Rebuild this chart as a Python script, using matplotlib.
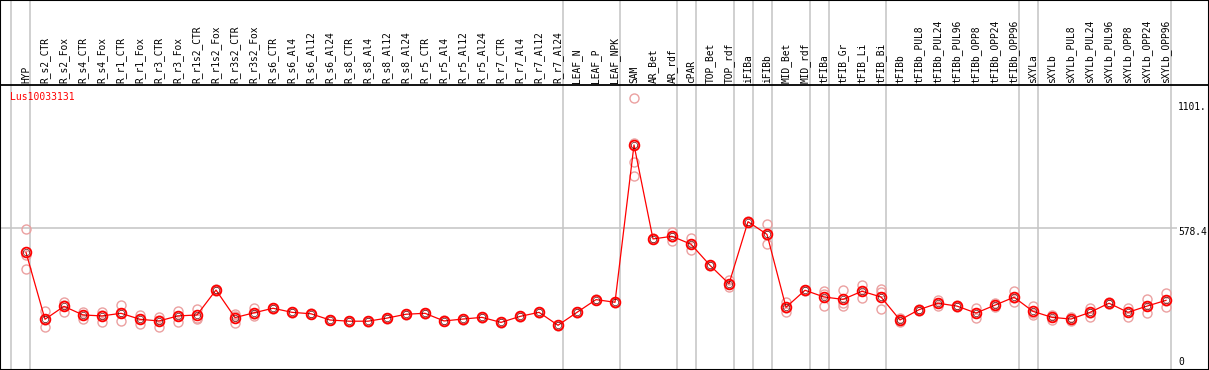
import numpy as np
from matplotlib import pyplot as plt

# Proben (Spaltenkoepfe)
samples = ["HYP", "R_s2_CTR", "R_s2_Fox", "R_s4_CTR", "R_s4_Fox", "R_r1_CTR", "R_r1_Fox",
           "R_r3_CTR", "R_r3_Fox", "R_r1s2_CTR", "R_r1s2_Fox", "R_r3s2_CTR", "R_r3s2_Fox",
           "R_s6_CTR", "R_s6_Al4", "R_s6_Al12", "R_s6_Al24", "R_s8_CTR", "R_s8_Al4", "R_s8_Al12",
           "R_s8_Al24", "R_r5_CTR", "R_r5_Al4", "R_r5_Al12", "R_r5_Al24", "R_r7_CTR", "R_r7_Al4",
           "R_r7_Al12", "R_r7_Al24", "LEAF_N", "LEAF_P", "LEAF_NPK", "SAM", "AR_Bet", "AR_rdf",
           "cPAR", "TOP_Bet", "TOP_rdf", "iFIBa", "iFIBb", "MID_Bet", "MID_rdf", "tFIBa",
           "tFIB_Gr", "tFIB_Li", "tFIB_Bi", "tFIBb", "tFIBb_PUL8", "tFIBb_PUL24", "tFIBb_PUL96",
           "tFIBb_OPP8", "tFIBb_OPP24", "tFIBb_OPP96", "sXYLa", "sXYLb", "sXYLb_PUL8",
           "sXYLb_PUL24", "sXYLb_PUL96", "sXYLb_OPP8", "sXYLb_OPP24", "sXYLb_OPP96"]

# Mittelwerte
means = [478, 199, 253, 217, 213, 224, 199, 192, 213, 217, 321, 206, 226,
         245, 228, 222, 196, 191, 191, 204, 220, 224, 192, 200, 207, 186, 211,
         228, 174, 228, 281, 270, 926, 534, 545, 512, 424, 347, 606, 553, 249,
         320, 292, 282, 316, 292, 196, 239, 266, 254, 225, 258, 291, 232, 207,
         200, 228, 266, 228, 254, 278]

# Einzelwerte (Replikate)
replicates = [
    [574, 467, 407], [233, 198, 166], [271, 257, 231], [231, 218, 201], [231, 218, 189],
    [257, 224, 191], [218, 199, 179], [210, 197, 168], [235, 214, 189], [243, 206, 201],
    [325, 321, 318], [221, 211, 185], [246, 221, 213],
    [248, 245, 242], [230, 228, 226], [224, 222, 220], [198, 196, 194], [193, 191, 189],
    [193, 191, 189], [206, 204, 202], [222, 220, 218], [226, 224, 222], [194, 192, 190],
    [202, 200, 198], [209, 207, 205], [188, 186, 184], [213, 211, 209], [230, 228, 226],
    [176, 174, 172], [230, 228, 226], [283, 281, 279], [272, 270, 268],
    [1120, 935, 854, 798], [536, 534, 532], [564, 544, 527], [537, 512, 487],
    [426, 424, 423], [363, 347, 332], [607, 606, 605], [595, 552, 513], [272, 244, 231],
    [321, 320, 319], [318, 304, 253], [321, 266, 254], [343, 315, 289], [324, 312, 242],
    [204, 196, 188], [243, 239, 235], [278, 265, 254], [259, 255, 249], [245, 226, 204],
    [268, 258, 249], [317, 286, 270], [256, 226, 216], [217, 209, 196], [210, 199, 192],
    [247, 227, 210], [272, 263, 262], [245, 230, 210], [284, 256, 224], [309, 274, 252]]

# Gruppengrenzen (nach diesem Index)
group_ends = [-1, 0, 28, 31, 34, 35, 37, 38, 39, 41, 42, 45, 52, 53, 60]

axis_labels = ["1101.", "578.4", "0"]
axis_values = [1101, 578.4, 0]
gene = "Lus10033131"

fig = plt.figure(figsize=(12.09, 3.70), dpi=100)
ax = fig.add_axes([0, 0, 1, 1])
ax.set_xlim(-26 / 19, (1209 - 26) / 19)
ax.set_ylim(-12.5, 1530.4)
ax.set_xticks([])
ax.set_yticks([])
for s in ax.spines.values():
    s.set_color("black")
    s.set_linewidth(1.5)

x = np.arange(len(samples))
header_y = 1176
grey = "#c4c4c4"

for g in group_ends:
    ax.axvline(g + 4.5 / 19, color=grey, lw=1.1, zorder=1)
ax.hlines(578.4, -26 / 19, (1177 - 26) / 19, color=grey, lw=1.1, zorder=1)
ax.axhline(header_y, color="black", lw=1.3, zorder=2)

for i, name in enumerate(samples):
    ax.text(i, header_y + 8, name, rotation=90, ha="center", va="bottom",
            family="DejaVu Sans Mono", fontsize=6.9, color="black")

for i, reps in enumerate(replicates):
    ax.plot([i] * len(reps), reps, "o", ms=6.5, mfc="none", mec="#eba0a0", mew=1.0, zorder=3)

ax.plot(x, means, "-", color="red", lw=0.9, zorder=4)
ax.plot(x, means, "o", ms=7.0, mfc="none", mec="red", mew=1.3, zorder=5)
ax.plot(x, means, "o", ms=4.6, mfc="none", mec="#5a0000", mew=0.45, zorder=6)

ax.text(-0.84, 1125, gene, ha="left", va="center", color="red",
        family="DejaVu Sans Mono", fontsize=7.0)
for lab, val in zip(axis_labels, axis_values):
    yy = max(val - 17, 20)
    ax.text((1178 - 26) / 19, yy, lab, ha="left", va="center", color="black",
            family="DejaVu Sans Mono", fontsize=6.9)

plt.savefig("out.png", dpi=100)
plt.close()
